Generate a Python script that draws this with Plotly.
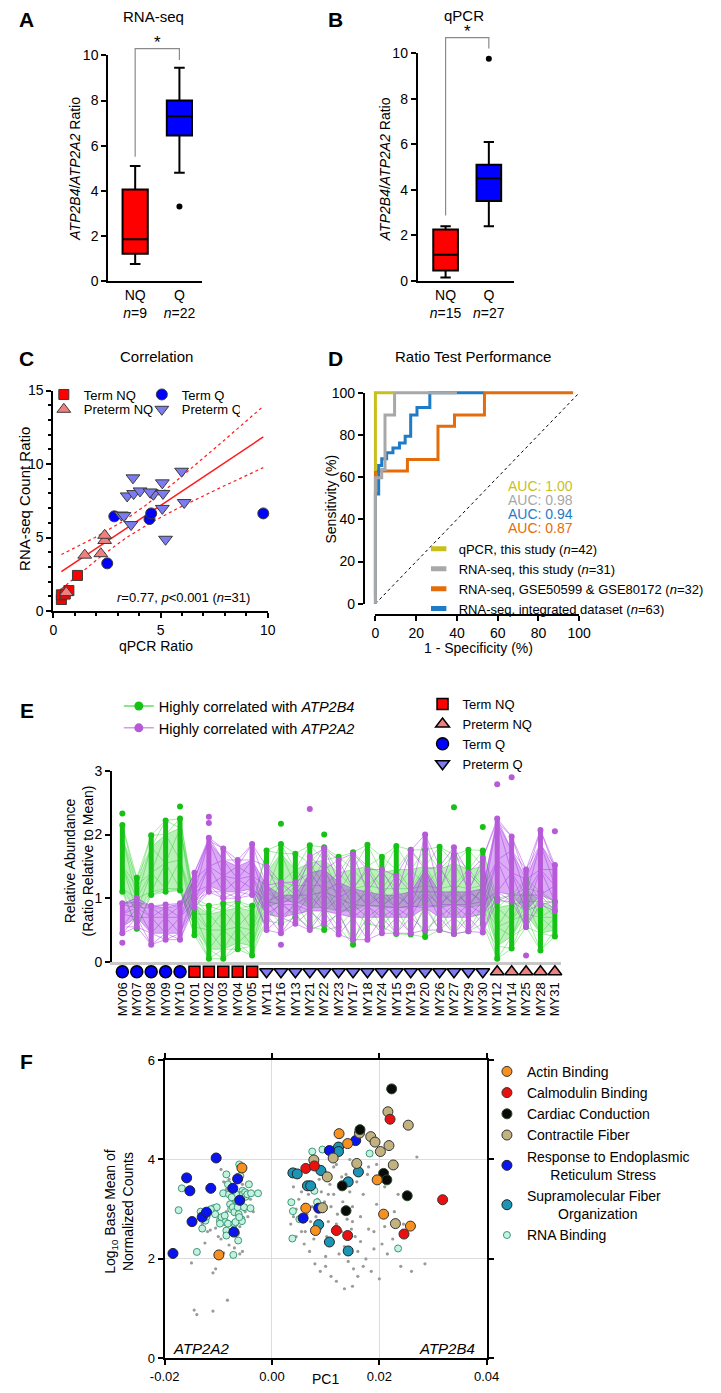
import numpy as np
import plotly.graph_objects as go

W, H = 721, 1393
FONT = "Liberation Sans, Arial, Helvetica, sans-serif"

def px2x(px): return px / W
def py2y(py): return 1 - py / H
def dom_x(a, b): return [a / W, b / W]
def dom_y(top, bot): return [1 - bot / H, 1 - top / H]

# ---------------- Panel A (RNA-seq) ----------------
ab_groups = ["NQ", "Q"]
a_counts = [9, 22]
a_lowfence = [0.75, 4.8]
a_q1 = [1.2, 6.45]
a_median = [1.85, 7.3]
a_q3 = [4.05, 8.0]
a_upfence = [5.1, 9.45]
a_outlier_group = [1]
a_outlier_val = [3.3]
a_bracket = [5.5, 10.3, 9.8]      # NQ end, top, Q end
# ---------------- Panel B (qPCR) ----------------
b_counts = [15, 27]
b_lowfence = [0.15, 2.4]
b_q1 = [0.45, 3.5]
b_median = [1.15, 4.5]
b_q3 = [2.25, 5.1]
b_upfence = [2.4, 6.1]
b_outlier_group = [1]
b_outlier_val = [9.75]
b_bracket = [2.86, 10.65, 10.17]
box_colors = ["#ff0000", "#0000ff"]

# ---------------- Panel C (correlation) ----------------
c_term_nq_x = [0.37, 0.37, 0.55, 0.72, 1.12]
c_term_nq_y = [0.78, 1.10, 1.15, 1.39, 2.42]
c_pre_nq_x = [0.60, 1.46, 2.21, 2.39, 2.39]
c_pre_nq_y = [1.25, 3.80, 3.90, 4.80, 5.15]
c_term_q_x = [2.84, 2.51, 4.48, 4.56, 9.79]
c_term_q_y = [6.44, 3.24, 6.26, 6.64, 6.64]
c_pre_q_x = [3.71, 3.44, 3.74, 4.04, 3.17, 3.29, 3.62, 4.56, 4.66, 5.08, 5.11, 5.08, 5.23, 5.98, 6.10, 4.50]
c_pre_q_y = [9.06, 7.83, 7.99, 8.17, 6.53, 6.49, 5.88, 8.05, 7.94, 8.72, 8.00, 6.98, 4.88, 9.51, 7.38, 8.10]

# ---------------- Panel D (ROC) ----------------
d_qpcr_x = [0, 0, 9]
d_qpcr_y = [63, 100, 100]
d_rnaseq_x = [0, 0, 3.1, 3.1, 4.7, 4.7, 9.4, 9.4, 40]
d_rnaseq_y = [0, 59.8, 59.8, 63.6, 63.6, 89.5, 89.5, 100, 100]
d_gse_x = [0, 0, 15.7, 15.7, 30.7, 30.7, 38.8, 38.8, 53.5, 53.5, 97]
d_gse_y = [4.4, 63, 63, 68.4, 68.4, 84.1, 84.1, 89.5, 89.5, 100, 100]
d_int_x = [0, 0, 1.6, 1.6, 3.1, 3.1, 5.5, 5.5, 8.6, 8.6, 11.8, 11.8, 14.6, 14.6, 17.3, 17.3, 20.4, 20.4, 26.7, 26.7, 53]
d_int_y = [0, 52.0, 52.0, 65.6, 65.6, 68.7, 68.7, 71.6, 71.6, 73.9, 73.9, 76.2, 76.2, 79.4, 79.4, 89.5, 89.5, 93.1, 93.1, 100, 100]
d_auc = ["1.00", "0.98", "0.94", "0.87"]
d_auc_colors = ["#c9bf1c", "#a8a8a8", "#1f7bc6", "#e46c0a"]
d_legend = ["qPCR, this study (<i>n</i>=42)", "RNA-seq, this study (<i>n</i>=31)",
            "RNA-seq, GSE50599 & GSE80172 (<i>n</i>=32)", "RNA-seq, integrated dataset (<i>n</i>=63)"]
d_legend_colors = ["#c9bf1c", "#a8a8a8", "#e46c0a", "#1f7bc6"]

# ---------------- Panel E (profiles) ----------------
e_samples = ["MY06", "MY07", "MY08", "MY09", "MY10", "MY01", "MY02", "MY03", "MY04", "MY05",
             "MY11", "MY16", "MY13", "MY21", "MY22", "MY23", "MY17", "MY18", "MY24", "MY15",
             "MY19", "MY20", "MY26", "MY27", "MY29", "MY30", "MY12", "MY14", "MY25", "MY28", "MY31"]
e_sample_group = ["Term Q"] * 5 + ["Term NQ"] * 5 + ["Preterm Q"] * 16 + ["Preterm NQ"] * 5
e_green_top = [2.15, 1.32, 1.99, 2.22, 2.25, 1.00, 0.88, 0.92, 0.95, 0.88, 1.75, 1.85, 1.70, 1.83, 1.80, 1.65,
               1.72, 1.84, 1.65, 1.82, 1.76, 1.76, 1.81, 1.68, 1.76, 1.75, 1.00, 1.05, 1.30, 1.10, 0.95]
e_green_hi = [1.95, 1.20, 1.80, 2.00, 2.10, 0.90, 0.75, 0.80, 0.85, 0.80, 1.40, 1.70, 1.45, 1.55, 1.60, 1.40,
              1.45, 1.50, 1.40, 1.45, 1.45, 1.50, 1.45, 1.55, 1.45, 1.50, 0.85, 0.90, 1.15, 0.95, 0.85]
e_green_mid = [1.50, 1.00, 1.40, 1.55, 1.60, 0.75, 0.50, 0.50, 0.55, 0.50, 1.10, 1.25, 1.20, 1.20, 1.20, 1.10,
               1.15, 1.20, 1.15, 1.15, 1.15, 1.20, 1.15, 1.20, 1.15, 1.20, 0.55, 0.65, 0.95, 0.70, 0.70]
e_green_lo = [1.15, 0.80, 1.10, 1.15, 1.15, 0.55, 0.20, 0.20, 0.30, 0.25, 0.85, 0.95, 0.95, 0.85, 0.85, 0.80,
              0.80, 0.90, 0.85, 0.85, 0.85, 0.90, 0.85, 0.90, 0.85, 0.90, 0.25, 0.40, 0.75, 0.45, 0.50]
e_green_bot = [1.10, 0.52, 1.05, 1.10, 1.12, 0.42, 0.05, 0.05, 0.20, 0.10, 0.65, 0.60, 0.70, 0.55, 0.50, 0.55,
               0.27, 0.60, 0.55, 0.44, 0.43, 0.39, 0.50, 0.44, 0.48, 0.60, 0.05, 0.21, 0.55, 0.18, 0.40]
e_green_out_idx = [0, 4, 11, 14, 23, 25]
e_green_out_val = [2.33, 2.44, 2.17, 2.00, 2.43, 2.12]
e_purple_top = [0.92, 1.00, 0.88, 0.90, 0.92, 1.40, 1.95, 1.78, 1.60, 1.85, 1.50, 1.25, 1.25, 1.65, 1.78, 1.60,
                1.70, 1.45, 1.45, 1.35, 1.75, 2.00, 1.50, 1.80, 1.40, 1.63, 2.25, 1.97, 1.45, 2.07, 1.52]
e_purple_hi = [0.90, 0.95, 0.85, 0.85, 0.88, 1.30, 1.90, 1.60, 1.50, 1.60, 1.20, 1.05, 1.05, 1.40, 1.45, 1.25,
               1.15, 1.10, 1.05, 1.05, 1.10, 1.45, 1.10, 1.10, 1.10, 1.15, 2.20, 1.75, 1.30, 1.85, 1.45]
e_purple_mid = [0.75, 0.85, 0.70, 0.70, 0.70, 1.10, 1.50, 1.35, 1.30, 1.35, 0.95, 0.90, 0.90, 1.05, 1.10, 1.00,
                0.90, 0.88, 0.88, 0.85, 0.88, 1.10, 0.90, 0.90, 0.90, 0.95, 1.60, 1.40, 1.05, 1.45, 1.20]
e_purple_lo = [0.55, 0.70, 0.45, 0.45, 0.45, 0.95, 1.20, 1.10, 1.10, 1.15, 0.75, 0.70, 0.75, 0.80, 0.80, 0.75,
               0.70, 0.70, 0.70, 0.70, 0.70, 0.85, 0.70, 0.70, 0.70, 0.75, 1.10, 1.05, 0.80, 1.05, 0.95]
e_purple_bot = [0.45, 0.55, 0.27, 0.35, 0.35, 0.85, 1.10, 1.00, 1.00, 1.05, 0.50, 0.45, 0.60, 0.50, 0.60, 0.43,
                0.35, 0.35, 0.45, 0.45, 0.45, 0.50, 0.50, 0.44, 0.48, 0.46, 0.96, 0.95, 0.55, 0.90, 0.80]
e_purple_out_idx = [0, 6, 6, 11, 13, 26, 27, 28, 30]
e_purple_out_val = [0.30, 2.18, 2.28, 0.27, 2.40, 2.79, 2.90, 0.10, 2.05]

# ---------------- Panel F (PC1 scatter) ----------------
f_gray_x = [-0.0145, -0.0140, -0.0110, -0.0083, -0.0150, -0.0110, -0.0105, -0.0125, -0.0090, -0.0080, -0.0060,
            -0.0055, -0.0070, -0.0100, -0.0115, -0.0105, -0.0095, -0.0085, -0.0065, -0.0060, -0.0045, -0.0050,
            -0.0075, -0.0090, -0.0080, -0.0095, -0.0065, -0.0055, -0.0040, -0.0100, -0.0130, -0.0120, -0.0075,
            -0.0070, -0.0035, -0.0085,
            0.0035, 0.0040, 0.0045, 0.0050, 0.0055, 0.0060, 0.0062, 0.0065, 0.0068, 0.0070, 0.0072, 0.0075, 0.0078,
            0.0080, 0.0082, 0.0085, 0.0088, 0.0090, 0.0092, 0.0095, 0.0098, 0.0100, 0.0102, 0.0105, 0.0108, 0.0110,
            0.0112, 0.0115, 0.0118, 0.0120, 0.0122, 0.0125, 0.0128, 0.0130, 0.0132, 0.0135, 0.0138, 0.0140, 0.0142,
            0.0145, 0.0148, 0.0150, 0.0152, 0.0155, 0.0158, 0.0160, 0.0165, 0.0170, 0.0175, 0.0180, 0.0185, 0.0190,
            0.0195, 0.0200, 0.0205, 0.0210, 0.0215, 0.0220, 0.0228, 0.0235, 0.0240, 0.0245, 0.0260, 0.0285, 0.0270,
            0.0060, 0.0070, 0.0080, 0.0090, 0.0100, 0.0110, 0.0120, 0.0135, 0.0150, 0.0160, 0.0170, 0.0100, 0.0055,
            0.0045, 0.0040, 0.0050, 0.0085, 0.0115, 0.0130, 0.0145, 0.0160, 0.0178, 0.0195, 0.0210, 0.0225, 0.0075,
            0.0090, 0.0105, 0.0120, 0.0135, 0.0150, 0.0165, 0.0180, 0.0190]
f_gray_y = [0.97, 0.88, 0.95, 1.17, 1.92, 1.72, 1.80, 2.32, 2.12, 2.28, 2.10, 2.15, 2.22, 2.45, 2.58, 2.62, 2.40,
            2.95, 2.55, 2.65, 2.85, 2.95, 3.15, 3.55, 3.60, 3.80, 3.70, 3.50, 3.20, 2.75, 2.70, 2.55, 2.60, 2.90,
            2.95, 3.40,
            2.70, 2.85, 3.00, 3.20, 3.35, 3.10, 2.55, 2.90, 3.30, 3.55, 2.75, 3.05, 2.40, 3.45, 2.85, 3.20, 3.60,
            2.60, 3.35, 2.95, 3.15, 3.75, 2.45, 2.75, 3.50, 3.05, 2.30, 3.30, 2.65, 3.90, 2.90, 2.10, 3.40, 2.55,
            3.15, 2.25, 3.70, 2.80, 1.95, 3.35, 2.60, 3.05, 1.80, 2.45, 3.55, 2.15, 2.85, 3.30, 2.00, 3.85, 1.75,
            2.55, 3.10, 1.60, 2.30, 3.45, 2.10, 3.85, 2.95, 3.30, 1.85, 2.70, 1.75, 1.90, 4.05,
            2.30, 2.15, 1.90, 1.75, 2.05, 1.65, 1.55, 1.40, 1.45, 1.65, 1.85, 1.85, 2.55, 2.45, 3.45, 3.70, 3.95,
            3.85, 3.65, 4.00, 3.85, 3.70, 3.90, 2.65, 2.40, 2.60, 3.00, 3.30, 2.70, 3.00, 2.75, 2.35, 2.60, 2.20]
f_rna_x = [-0.0174, -0.0168, -0.0140, -0.0133, -0.0124, -0.0109, -0.0106, -0.0097, -0.0094, -0.0088, -0.0085,
           -0.0082, -0.0091, -0.0087, -0.0085, -0.0085, -0.0082, -0.0078, -0.0076, -0.0073, -0.0070, -0.0067,
           -0.0065, -0.0064, -0.0062, -0.0061, -0.0059, -0.0057, -0.0056, -0.0055, -0.0054, -0.0052, -0.0050,
           -0.0049, -0.0046, -0.0043, -0.0040, -0.0039, -0.0026, -0.0070, -0.0068, -0.0072, -0.0063, -0.0067,
           -0.0103, -0.0114, -0.0122, -0.0130, -0.0097, -0.0061, -0.0080, -0.0075,
           0.0075, 0.0094, 0.0079, 0.0036, 0.0039, 0.0038, 0.0084, 0.0051, 0.0182, 0.0235]
f_rna_y = [2.98, 3.42, 2.14, 2.95, 2.77, 3.02, 2.90, 2.77, 2.84, 2.87, 3.70, 3.50, 3.32, 2.74, 2.57, 2.47, 2.71,
           3.10, 3.00, 3.04, 2.94, 3.30, 3.17, 3.04, 2.90, 3.90, 3.67, 2.80, 2.76, 3.37, 3.30, 3.04, 3.34, 3.25,
           3.30, 3.50, 3.02, 3.32, 3.32, 2.71, 2.74, 2.08, 2.37, 2.52, 3.04, 3.00, 2.85, 2.61, 2.71, 2.84, 3.30,
           3.24,
           4.16, 4.20, 3.37, 3.14, 2.96, 2.41, 3.14, 2.80, 4.12, 2.21]
f_blue_x = [-0.01845, -0.0159, -0.0153, -0.0149, -0.0130, -0.0122, -0.0114, -0.0104, -0.0073, -0.0071, -0.0064,
            -0.0060, 0.0058, 0.0087, 0.0107, 0.0156]
f_blue_y = [2.11, 3.63, 3.37, 2.75, 2.84, 2.94, 3.42, 4.03, 3.42, 2.54, 3.61, 3.18, 2.82, 3.02, 4.18, 4.38]
f_teal_x = [0.0039, 0.0047, 0.0066, 0.0072, 0.0091, 0.0087, 0.0107, 0.0124, 0.0124, 0.0142, 0.0161, 0.0142]
f_teal_y = [3.73, 3.71, 3.47, 3.47, 3.78, 2.69, 2.34, 4.25, 4.16, 3.55, 3.75, 2.16]
f_tan_x = [0.0216, 0.0184, 0.0192, 0.0163, 0.0202, 0.0218, 0.0226, 0.0158, 0.0114, 0.0078, 0.0103, 0.0094,
           0.0230, 0.0254]
f_tan_y = [4.96, 4.46, 4.35, 4.53, 4.16, 4.28, 3.89, 3.92, 4.03, 3.99, 3.65, 3.03, 2.71, 4.69]
f_black_x = [0.0223, 0.0164, 0.0208, 0.0214, 0.0131, 0.0138, 0.0252]
f_black_y = [5.42, 4.60, 3.72, 3.59, 3.47, 2.97, 3.27]
f_red_x = [0.0063, 0.0079, 0.0120, 0.0141, 0.0220, 0.0318, 0.0246]
f_red_y = [3.82, 3.87, 2.57, 2.47, 4.81, 3.19, 2.50]
f_orange_x = [-0.0099, -0.0056, 0.0063, 0.0081, 0.0125, 0.0141, 0.0196, 0.0208, 0.0258]
f_orange_y = [2.08, 3.83, 3.02, 2.57, 4.52, 4.32, 3.59, 2.90, 2.66]

fig = go.Figure()
axis_base = dict(showline=True, linecolor="black", linewidth=2, ticks="outside", ticklen=5, tickwidth=2,
                 tickcolor="black", showgrid=False, zeroline=False, tickfont=dict(size=14, color="black"))

# ---------- A & B boxes ----------
def add_boxes(xa, ya, lowf, q1, med, q3, upf, out_g, out_v):
    for i in range(2):
        fig.add_trace(go.Box(x=[i], q1=[q1[i]], median=[med[i]], q3=[q3[i]], lowerfence=[lowf[i]],
                             upperfence=[upf[i]], orientation="v", fillcolor=box_colors[i],
                             line=dict(color="black", width=2), width=0.57, whiskerwidth=0.42,
                             boxpoints=False, showlegend=False, xaxis=xa, yaxis=ya, hoverinfo="skip"))
    fig.add_trace(go.Scatter(x=out_g, y=out_v, mode="markers", marker=dict(color="black", size=6),
                             showlegend=False, xaxis=xa, yaxis=ya, cliponaxis=False))

add_boxes("x", "y", a_lowfence, a_q1, a_median, a_q3, a_upfence, a_outlier_group, a_outlier_val)
add_boxes("x2", "y2", b_lowfence, b_q1, b_median, b_q3, b_upfence, b_outlier_group, b_outlier_val)

def add_bracket(xa, ya, br):
    fig.add_trace(go.Scatter(x=[0, 0, 1, 1], y=[br[0], br[1], br[1], br[2]], mode="lines",
                             line=dict(color="#8a8a8a", width=1.2), showlegend=False, xaxis=xa, yaxis=ya))
    fig.add_trace(go.Scatter(x=[0.5], y=[br[1] + 0.2], mode="text", text=["*"],
                             textfont=dict(size=17, color="black"), textposition="middle center",
                             showlegend=False, xaxis=xa, yaxis=ya))

add_bracket("x8", "y8", a_bracket)
add_bracket("x9", "y9", b_bracket)

# ---------- C scatter ----------
mk_line = dict(color="#3a3a3a", width=1)
c_sets = [
    ("Term NQ", c_term_nq_x, c_term_nq_y, "square", "#ff0000", 10, "legend"),
    ("Term Q", c_term_q_x, c_term_q_y, "circle", "#0000ff", 11, "legend"),
    ("Preterm NQ", c_pre_nq_x, c_pre_nq_y, "triangle-up", "#f08080", 12, "legend2"),
    ("Preterm Q", c_pre_q_x, c_pre_q_y, "triangle-down", "#7c7cf0", 12, "legend2"),
]
allx = np.array(c_term_nq_x + c_pre_nq_x + c_term_q_x + c_pre_q_x)
ally = np.array(c_term_nq_y + c_pre_nq_y + c_term_q_y + c_pre_q_y)
slope, icpt = np.polyfit(allx, ally, 1)
n = len(allx)
xs = np.linspace(allx.min(), allx.max(), 80)
fit = icpt + slope * xs
resid = ally - (icpt + slope * allx)
s_err = np.sqrt(np.sum(resid ** 2) / (n - 2))
sxx = np.sum((allx - allx.mean()) ** 2)
ci = 2.045 * s_err * np.sqrt(1 / n + (xs - allx.mean()) ** 2 / sxx)
fig.add_trace(go.Scatter(x=xs, y=fit, mode="lines", line=dict(color="#ff1a1a", width=1.5),
                         showlegend=False, xaxis="x3", yaxis="y3"))
for sgn in (1, -1):
    fig.add_trace(go.Scatter(x=xs, y=fit + sgn * ci, mode="lines", line=dict(color="#ff1a1a", width=1.2, dash="dot"),
                             showlegend=False, xaxis="x3", yaxis="y3"))
for name, xv, yv, sym, col, sz, lg in c_sets:
    fig.add_trace(go.Scatter(x=xv, y=yv, mode="markers", name=name, legend=lg,
                             marker=dict(symbol=sym, color=col, size=sz, line=mk_line),
                             xaxis="x3", yaxis="y3", cliponaxis=False))

# ---------- D ROC ----------
fig.add_trace(go.Scatter(x=[0, 100], y=[0, 100], mode="lines", line=dict(color="black", width=1, dash="dot"),
                         showlegend=False, xaxis="x4", yaxis="y4"))
roc = [(d_gse_x, d_gse_y, "#e46c0a"), (d_int_x, d_int_y, "#1f7bc6"), (d_rnaseq_x, d_rnaseq_y, "#a8a8a8"),
       (d_qpcr_x, d_qpcr_y, "#c9bf1c")]
for xv, yv, col in roc:
    fig.add_trace(go.Scatter(x=xv, y=yv, mode="lines", line=dict(color=col, width=3),
                             showlegend=False, xaxis="x4", yaxis="y4"))
for lab, col in zip(d_legend, d_legend_colors):
    fig.add_trace(go.Scatter(x=[None], y=[None], mode="markers", name=lab, legend="legend3",
                             marker=dict(symbol="line-ew", size=11, line=dict(color=col, width=5)),
                             xaxis="x4", yaxis="y4"))
fig.add_trace(go.Scatter(x=[None], y=[None], showlegend=False, xaxis="x10", yaxis="y10"))

# ---------- E profiles ----------
cols = list(range(len(e_samples)))
GREEN_L, GREEN_M = "rgba(30,205,30,{})", "#15c215"
PURP_L, PURP_M = "rgba(165,45,230,{})", "#b65ad8"

def band(hi, lo, colfmt, alpha):
    fig.add_trace(go.Scatter(x=cols + cols[::-1], y=list(hi) + list(lo)[::-1], fill="toself",
                             fillcolor=colfmt.format(alpha), line=dict(width=0), mode="lines",
                             showlegend=False, xaxis="x5", yaxis="y5", hoverinfo="skip"))

def mesh(levels, colfmt, alpha):
    # segments joining each level to the same and neighbouring levels of the next sample
    xx, yy = [], []
    nl = len(levels)
    for c in cols[:-1]:
        for k in range(nl):
            for j in (k - 1, k, k + 1):
                if 0 <= j < nl:
                    xx += [c, c + 1, None]
                    yy += [levels[k][c], levels[j][c + 1], None]
    fig.add_trace(go.Scatter(x=xx, y=yy, mode="lines", line=dict(color=colfmt.format(alpha), width=0.9),
                             showlegend=False, xaxis="x5", yaxis="y5", hoverinfo="skip"))

def vbars(bot, top, color):
    xx, yy = [], []
    for c, b, t in zip(cols, bot, top):
        xx += [c, c, None]
        yy += [b, t, None]
    fig.add_trace(go.Scatter(x=xx, y=yy, mode="lines+markers", line=dict(color=color, width=5),
                             marker=dict(color=color, size=6), showlegend=False,
                             xaxis="x5", yaxis="y5", cliponaxis=False, hoverinfo="skip"))

g_levels = [e_green_bot, e_green_lo, e_green_mid, e_green_hi, e_green_top]
p_levels = [e_purple_bot, e_purple_lo, e_purple_mid, e_purple_hi, e_purple_top]
band(e_green_hi, e_green_lo, GREEN_L, 0.3)
mesh(g_levels, GREEN_L, 0.45)
band(e_purple_hi, e_purple_lo, PURP_L, 0.4)
mesh(p_levels, PURP_L, 0.5)
vbars(e_green_bot, e_green_top, GREEN_M)
vbars(e_purple_bot, e_purple_top, PURP_M)
fig.add_trace(go.Scatter(x=e_green_out_idx, y=e_green_out_val, mode="markers", marker=dict(color=GREEN_M, size=6),
                         showlegend=False, xaxis="x5", yaxis="y5", cliponaxis=False))
fig.add_trace(go.Scatter(x=e_purple_out_idx, y=e_purple_out_val, mode="markers", marker=dict(color=PURP_M, size=6),
                         showlegend=False, xaxis="x5", yaxis="y5", cliponaxis=False))
fig.add_trace(go.Scatter(x=[None], y=[None], mode="lines+markers", name="Highly correlated with <i>ATP2B4</i>",
                         legend="legend4", line=dict(color="#66dd66", width=1.5),
                         marker=dict(color="#15c215", size=9), xaxis="x5", yaxis="y5"))
fig.add_trace(go.Scatter(x=[None], y=[None], mode="lines+markers", name="Highly correlated with <i>ATP2A2</i>",
                         legend="legend4", line=dict(color="#d79ae8", width=1.5),
                         marker=dict(color="#b65ad8", size=9), xaxis="x5", yaxis="y5"))
strip_style = {"Term NQ": ("square", "#ff0000", 11), "Preterm NQ": ("triangle-up", "#f08080", 12),
               "Term Q": ("circle", "#0000ff", 12), "Preterm Q": ("triangle-down", "#7c7cf0", 12)}
for g in ["Term NQ", "Preterm NQ", "Term Q", "Preterm Q"]:
    sym, col, sz = strip_style[g]
    idx = [i for i, gg in enumerate(e_sample_group) if gg == g]
    fig.add_trace(go.Scatter(x=idx, y=[0] * len(idx), mode="markers", name=g, legend="legend5",
                             marker=dict(symbol=sym, color=col, size=sz, line=dict(color="black", width=1.5)),
                             xaxis="x6", yaxis="y6", cliponaxis=False))

# ---------- F scatter ----------
fig.add_trace(go.Scatter(x=f_gray_x, y=f_gray_y, mode="markers", marker=dict(color="#9a9a9a", size=3.2),
                         showlegend=False, xaxis="x7", yaxis="y7"))
NB = "\u00a0"
f_sets = [
    ("RNA Binding", f_rna_x, f_rna_y, "#c4f2df", 7, "#3a9a78"),
    ("Supramolecular Fiber<br>" + NB * 8 + "Organization", f_teal_x, f_teal_y, "#1b95b6", 10, "#222"),
    ("Response to Endoplasmic<br>" + NB * 6 + "Reticulum Stress", f_blue_x, f_blue_y, "#0a14f0", 10, "#222"),
    ("Contractile Fiber", f_tan_x, f_tan_y, "#c2b27f", 10, "#333"),
    ("Cardiac Conduction", f_black_x, f_black_y, "#0a0a0a", 10, "#2a4a2a"),
    ("Calmodulin Binding", f_red_x, f_red_y, "#ea1010", 10, "#333"),
    ("Actin Binding", f_orange_x, f_orange_y, "#f7901e", 10, "#333"),
]
for name, xv, yv, col, sz, lc in f_sets:
    fig.add_trace(go.Scatter(x=xv, y=yv, mode="markers", name=name, legend="legend6",
                             marker=dict(color=col, size=sz, line=dict(color=lc, width=1)),
                             xaxis="x7", yaxis="y7", cliponaxis=False))

# ---------- axes ----------
lay = {}
lay["xaxis"] = dict(axis_base, domain=dom_x(97, 195), range=[-0.609, 1.52], tickvals=[0, 1], ticks="",
                    ticktext=[f"{g}<br><i>n</i>={c}" for g, c in zip(ab_groups, a_counts)], anchor="y")
lay["yaxis"] = dict(axis_base, domain=dom_y(48, 276), range=[0, 10], tickvals=[0, 2, 4, 6, 8, 10], anchor="x")
lay["xaxis2"] = dict(axis_base, domain=dom_x(419, 519), range=[-0.644, 1.578], tickvals=[0, 1], ticks="",
                     ticktext=[f"{g}<br><i>n</i>={c}" for g, c in zip(ab_groups, b_counts)], anchor="y2")
lay["yaxis2"] = dict(axis_base, domain=dom_y(45.6, 276), range=[0, 10], tickvals=[0, 2, 4, 6, 8, 10], anchor="x2")
lay["xaxis8"] = dict(domain=dom_x(97, 195), range=[-0.609, 1.52], visible=False, anchor="y8")
lay["yaxis8"] = dict(domain=dom_y(276 - 22.8 * 12, 276), range=[0, 12], visible=False, anchor="x8")
lay["xaxis9"] = dict(domain=dom_x(419, 519), range=[-0.644, 1.578], visible=False, anchor="y9")
lay["yaxis9"] = dict(domain=dom_y(276 - 23.1 * 11.5, 276), range=[0, 11.5], visible=False, anchor="x9")
minor = dict(ticks="outside", ticklen=3, tickwidth=1.5, tickcolor="black", dtick=1)
lay["xaxis3"] = dict(axis_base, domain=dom_x(40, 263), range=[0, 10], tickmode="linear", tick0=0, dtick=5,
                     minor=minor, anchor="y3")
lay["yaxis3"] = dict(axis_base, domain=dom_y(387, 610), range=[0, 15], tickmode="linear", tick0=0, dtick=5,
                     minor=minor, anchor="x3")
lay["xaxis4"] = dict(domain=dom_x(375 - 3.2, 587 + 3.2), range=[-1.5, 101.5], visible=False, anchor="y4")
lay["yaxis4"] = dict(domain=dom_y(389.3 - 3.2, 602.7 + 3.2), range=[-1.5, 101.5], visible=False, anchor="x4")
lay["xaxis10"] = dict(axis_base, domain=dom_x(375, 587), range=[0, 100], tickvals=[0, 20, 40, 60, 80, 100],
                      anchor="free", position=py2y(614))
lay["yaxis10"] = dict(axis_base, domain=dom_y(389.3, 602.7), range=[0, 100], tickvals=[0, 20, 40, 60, 80, 100],
                      anchor="free", position=px2x(363))
lay["xaxis5"] = dict(domain=dom_x(101, 568), range=[-0.713, 30.42], showline=True, linecolor="#c8c8c8",
                     linewidth=2.5, showticklabels=False, ticks="", showgrid=False, zeroline=False, anchor="y5")
lay["yaxis5"] = dict(axis_base, domain=dom_y(771.7, 965), range=[0, 3], tickvals=[0, 1, 2, 3], anchor="x5")
lay["xaxis6"] = dict(domain=dom_x(101, 568), range=[-0.713, 30.42], tickvals=cols, ticktext=e_samples,
                     tickangle=-90, showline=False, ticks="", showgrid=False, zeroline=False,
                     tickfont=dict(size=13, color="black"), anchor="y6")
lay["yaxis6"] = dict(domain=dom_y(968, 982), range=[-1, 1], visible=False, anchor="x6")
lay["xaxis7"] = dict(axis_base, domain=dom_x(155.7, 490.7), range=[-0.02, 0.04], tickvals=[-0.02, 0, 0.02, 0.04],
                     ticktext=["-0.02", "0.00", "0.02", "0.04"], mirror="ticks", showgrid=True,
                     gridcolor="#dcdcdc", gridwidth=1, anchor="y7", tickfont=dict(size=13, color="black"))
lay["yaxis7"] = dict(axis_base, domain=dom_y(1064.3, 1366), range=[0, 6], tickvals=[0, 2, 4, 6], mirror="ticks",
                     showgrid=True, gridcolor="#dcdcdc", gridwidth=1, anchor="x7",
                     tickfont=dict(size=13, color="black"))

leg_common = dict(bgcolor="rgba(0,0,0,0)", borderwidth=0)
lay["legend"] = dict(leg_common, traceorder="normal", orientation="h", x=px2x(30), y=py2y(391), xanchor="left",
                     yanchor="middle", entrywidth=53, font=dict(size=13, color="black"))
lay["legend2"] = dict(leg_common, traceorder="normal", orientation="h", x=px2x(30), y=py2y(406), xanchor="left",
                      yanchor="middle", entrywidth=53, font=dict(size=13, color="black"))
lay["legend3"] = dict(leg_common, traceorder="normal", x=px2x(420), y=py2y(532), xanchor="left", yanchor="top",
                      font=dict(size=13, color="black"))
lay["legend4"] = dict(leg_common, traceorder="normal", x=px2x(108), y=py2y(690), xanchor="left", yanchor="top",
                      font=dict(size=14.5, color="black"))
lay["legend5"] = dict(leg_common, traceorder="normal", x=px2x(424), y=py2y(689), xanchor="left", yanchor="top",
                      font=dict(size=13, color="black"))
lay["legend6"] = dict(leg_common, traceorder="reversed", x=px2x(491), y=py2y(1060), xanchor="left", yanchor="top",
                      font=dict(size=14, color="black"))

def ann(text, x, y, size=14, angle=0, bold=False, color="black", xanchor="center", italic=False):
    t = f"<b>{text}</b>" if bold else text
    t = f"<i>{t}</i>" if italic else t
    return dict(text=t, x=px2x(x), y=py2y(y), xref="paper", yref="paper", showarrow=False, textangle=angle,
                font=dict(size=size, color=color), xanchor=xanchor, yanchor="middle")

anns = [
    ann("A", 12, 12, 21, bold=True), ann("B", 333, 12, 21, bold=True), ann("C", 12, 355, 21, bold=True),
    ann("D", 333, 355, 21, bold=True), ann("E", 12, 711, 21, bold=True), ann("F", 12, 1066, 21, bold=True),
    ann("RNA-seq", 144, 9, 15), ann("qPCR", 467, 8, 15), ann("Correlation", 147, 353, 15),
    ann("Ratio Test Performance", 476, 353, 15),
    ann("<i>ATP2B4</i>/<i>ATP2A2</i> Ratio", 63, 163, 14, angle=-90),
    ann("<i>ATP2B4</i>/<i>ATP2A2</i> Ratio", 385, 163, 14, angle=-90),
    ann("RNA-seq Count Ratio", 10, 497, 15, angle=-90),
    ann("Sensitivity (%)", 329, 497, 14, angle=-90),
    ann("qPCR Ratio", 147, 645, 14), ann("1 - Specificity (%)", 482, 647, 14),
    ann("<i>r</i>=0.77, <i>p</i>&lt;0.001 (<i>n</i>=31)", 175, 596, 13),
    ann("Relative Abundance<br>(Ratio Relative to Mean)", 67, 863, 14, angle=-90),
    ann("Log<sub>10</sub> Base Mean of<br>Normalized Counts", 108, 1217, 14, angle=-90),
    ann("PC1", 323, 1387, 14),
    ann("ATP2A2", 162, 1356, 15, italic=True, xanchor="left"),
    ann("ATP2B4", 481, 1356, 15, italic=True, xanchor="right"),
]
for i, (v, c) in enumerate(zip(d_auc, d_auc_colors)):
    anns.append(ann(f"AUC: {v}", 583, 484 + 14 * i, 14, color=c, xanchor="right"))

fig.update_layout(**lay)
fig.update_layout(width=W, height=H, margin=dict(l=0, r=0, t=0, b=0), plot_bgcolor="rgba(0,0,0,0)",
                  paper_bgcolor="white", font=dict(family=FONT, color="black"), annotations=anns,
                  hovermode=False)
fig.write_html("out.html", config={"displayModeBar": False},
               post_script="document.body.style.margin='0px';")
